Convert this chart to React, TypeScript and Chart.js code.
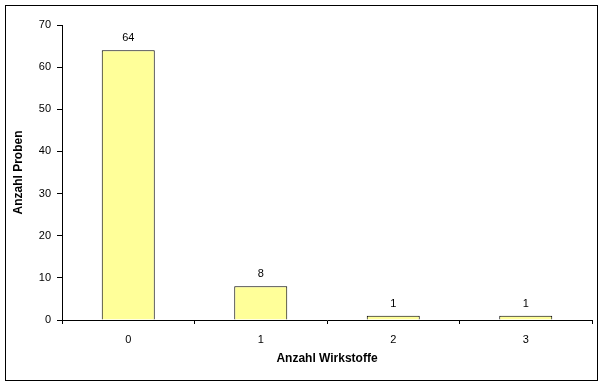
import React, { useEffect, useRef } from "react";
import { Chart, registerables } from "chart.js";

Chart.register(...registerables);

const categories = ["0", "1", "2", "3"];
const values = [64, 8, 1, 1];
const yTitle = "Anzahl Proben";
const xTitle = "Anzahl Wirkstoffe";

const FONT = "'Liberation Sans', Arial, sans-serif";

const frame = {
  id: "frame",
  beforeDraw(chart: any) {
    const ctx = chart.ctx;
    ctx.save();
    ctx.fillStyle = "#ffffff";
    ctx.fillRect(0, 0, chart.width, chart.height);
    ctx.strokeStyle = "#000000";
    ctx.lineWidth = 1;
    ctx.strokeRect(5.5, 5.5, 592, 375);
    ctx.restore();
  },
};

const labels = {
  id: "barLabels",
  afterDatasetsDraw(chart: any) {
    const ctx = chart.ctx;
    const meta = chart.getDatasetMeta(0);
    ctx.save();
    ctx.fillStyle = "#000000";
    ctx.font = `11px ${FONT}`;
    ctx.textAlign = "center";
    ctx.textBaseline = "alphabetic";
    meta.data.forEach((bar: any, i: number) => {
      ctx.fillText(String(values[i]), bar.x, bar.y - 9);
    });
    ctx.restore();
  },
};

export default function App() {
  const ref = useRef<HTMLCanvasElement>(null);
  useEffect(() => {
    if (!ref.current) return;
    const chart = new Chart(ref.current, {
      type: "bar",
      data: {
        labels: categories,
        datasets: [
          {
            data: values,
            backgroundColor: "#FFFF99",
            borderColor: "#000000",
            borderWidth: 1,
            barPercentage: 0.4,
            categoryPercentage: 1,
          },
        ],
      },
      options: {
        responsive: false,
        animation: false,
        layout: { padding: { top: 25, right: 12, left: 0, bottom: 0 } },
        plugins: {
          legend: { display: false },
          tooltip: { enabled: false },
        },
        scales: {
          x: {
            grid: {
              display: true,
              drawOnChartArea: false,
              drawTicks: true,
              tickLength: 4,
              color: "#000000",
              offset: true,
            },
            border: { color: "#000000", width: 1 },
            ticks: {
              color: "#000000",
              font: { family: FONT, size: 11 },
              padding: 9,
              maxRotation: 0,
            },
            title: {
              display: true,
              text: xTitle,
              color: "#000000",
              font: { family: FONT, size: 12, weight: "bold" },
              padding: { top: 0, bottom: 21 },
            },
            afterFit(scale: any) {
              scale.height = 67;
            },
          },
          y: {
            min: 0,
            max: 70,
            grid: {
              display: true,
              drawOnChartArea: false,
              drawTicks: true,
              tickLength: 5,
              color: "#000000",
            },
            border: { color: "#000000", width: 1 },
            ticks: {
              stepSize: 10,
              color: "#000000",
              font: { family: FONT, size: 11 },
              padding: 6,
            },
            title: {
              display: true,
              text: yTitle,
              color: "#000000",
              font: { family: FONT, size: 12, weight: "bold" },
              padding: { top: 11, bottom: 0 },
            },
            afterFit(scale: any) {
              scale.width = 62;
            },
          },
        },
      },
      plugins: [frame, labels],
    });
    return () => chart.destroy();
  }, []);
  return (
    <div style={{ position: "absolute", left: 0, top: 0, width: 604, height: 387 }}>
      <canvas ref={ref} width={604} height={387} />
    </div>
  );
}
